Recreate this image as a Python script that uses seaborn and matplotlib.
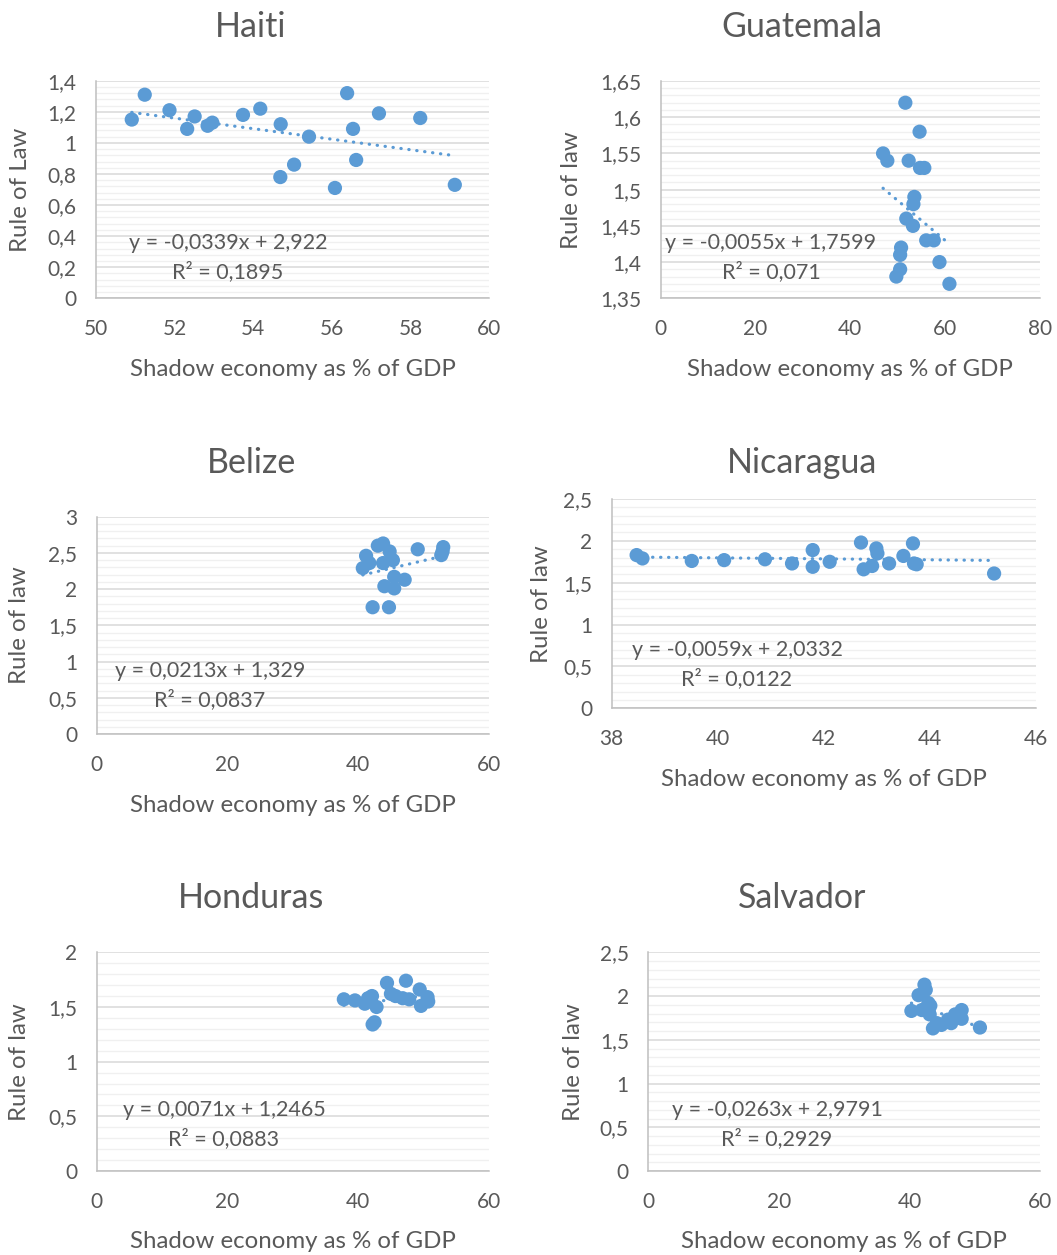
import numpy as np
import pandas as pd
import matplotlib
matplotlib.use("Agg")
import matplotlib.pyplot as plt
from matplotlib.ticker import MultipleLocator, AutoMinorLocator, FuncFormatter
import seaborn as sns

# ---------------- data ----------------
haiti_x = [50.91, 51.24, 51.87, 52.51, 52.32, 52.84, 52.96, 53.74, 54.18, 54.70,
           54.69, 55.04, 55.42, 56.08, 56.39, 56.54, 56.62, 57.20, 58.25, 59.13]
haiti_y = [1.15, 1.31, 1.21, 1.17, 1.09, 1.11, 1.13, 1.18, 1.22, 1.12,
           0.78, 0.86, 1.04, 0.71, 1.32, 1.09, 0.89, 1.19, 1.16, 0.73]
haiti_fit = (-0.0339, 2.922, 0.1895)

guatemala_x = [51.6, 54.6, 46.9, 47.8, 52.3, 54.7, 55.6, 53.5, 53.3, 51.8,
               53.2, 56.0, 57.6, 50.7, 50.5, 50.5, 49.7, 58.8, 60.9]
guatemala_y = [1.62, 1.58, 1.55, 1.54, 1.54, 1.53, 1.53, 1.49, 1.48, 1.46,
               1.45, 1.43, 1.43, 1.42, 1.41, 1.39, 1.38, 1.40, 1.37]
guatemala_fit = (-0.0055, 1.7599, 0.071)

belize_x = [43.8, 43.0, 44.8, 41.2, 49.1, 53.0, 52.7, 52.9, 45.3, 40.7,
            43.8, 47.1, 45.5, 44.0, 45.5, 42.2, 44.7, 41.7]
belize_y = [2.63, 2.60, 2.52, 2.46, 2.55, 2.58, 2.47, 2.52, 2.40, 2.29,
            2.36, 2.13, 2.17, 2.04, 2.01, 1.75, 1.75, 2.36]
belize_fit = (0.0213, 1.329, 0.0837)

nicaragua_x = [38.47, 38.58, 39.51, 40.12, 40.89, 41.40, 41.79, 41.79, 42.11, 42.70,
               42.75, 42.91, 42.99, 43.01, 43.23, 43.50, 43.68, 43.75, 43.70, 45.21]
nicaragua_y = [1.83, 1.79, 1.76, 1.77, 1.78, 1.73, 1.89, 1.69, 1.75, 1.98,
               1.66, 1.70, 1.91, 1.85, 1.73, 1.82, 1.97, 1.72, 1.73, 1.61]
nicaragua_fit = (-0.0059, 2.0332, 0.0122)

honduras_x = [37.8, 39.5, 41.0, 42.1, 42.8, 42.2, 42.5, 44.4, 47.3, 45.0,
              46.8, 49.4, 50.6, 49.6, 50.7, 47.8, 45.7, 41.5]
honduras_y = [1.57, 1.56, 1.53, 1.60, 1.50, 1.34, 1.36, 1.72, 1.74, 1.62,
              1.58, 1.66, 1.59, 1.51, 1.55, 1.57, 1.60, 1.58]
honduras_fit = (0.0071, 1.2465, 0.0883)

salvador_x = [42.3, 42.5, 41.4, 42.9, 43.2, 40.3, 41.9, 43.1, 43.6, 44.9,
              45.9, 46.4, 48.0, 48.0, 47.0, 50.8, 44.2]
salvador_y = [2.13, 2.07, 2.01, 1.92, 1.89, 1.83, 1.84, 1.79, 1.63, 1.67,
              1.73, 1.69, 1.84, 1.74, 1.79, 1.64, 1.69]
salvador_fit = (-0.0263, 2.9791, 0.2929)

# ---------------- style ----------------
sns.set_theme(style="white")
plt.rcParams["font.family"] = ["Lato", "DejaVu Sans"]

W, H = 1057, 1255
TEXT = "#595959"
DOT = "#5B9BD5"
AXIS = "#BFBFBF"

fig = plt.figure(figsize=(W / 100, H / 100), dpi=100)
fig.patch.set_facecolor("white")


def px_rect(left, right, top, bottom):
    return [left / W, 1 - bottom / H, (right - left) / W, (bottom - top) / H]


def comma(v, _pos=None):
    return f"{round(v, 4):g}".replace(".", ",")


panels = [
    dict(name="Haiti", x=haiti_x, y=haiti_y, fit=haiti_fit, ylabel="Rule of Law",
         box=(96, 489, 80.7, 298.3), xlim=(50, 60), xstep=2, ylim=(0, 1.4), ystep=0.2,
         title_xy=(251, 27), ylab_x=20, eq_xy=(228, 243)),
    dict(name="Guatemala", x=guatemala_x, y=guatemala_y, fit=guatemala_fit, ylabel="Rule of law",
         box=(660.7, 1040, 81, 298.3), xlim=(0, 80), xstep=20, ylim=(1.35, 1.65), ystep=0.05,
         title_xy=(802, 27), ylab_x=572, eq_xy=(771, 243)),
    dict(name="Belize", x=belize_x, y=belize_y, fit=belize_fit, ylabel="Rule of law",
         box=(96.7, 489, 516.7, 734), xlim=(0, 60), xstep=20, ylim=(0, 3), ystep=0.5,
         title_xy=(251, 463), ylab_x=20, eq_xy=(210, 671)),
    dict(name="Nicaragua", x=nicaragua_x, y=nicaragua_y, fit=nicaragua_fit, ylabel="Rule of law",
         box=(611.7, 1036, 499, 708.3), xlim=(38, 46), xstep=2, ylim=(0, 2.5), ystep=0.5,
         title_xy=(802, 463), ylab_x=542, eq_xy=(737, 650)),
    dict(name="Honduras", x=honduras_x, y=honduras_y, fit=honduras_fit, ylabel="Rule of law",
         box=(96.7, 489, 952.3, 1171), xlim=(0, 60), xstep=20, ylim=(0, 2), ystep=0.5,
         title_xy=(251, 898), ylab_x=20, eq_xy=(224, 1110)),
    dict(name="Salvador", x=salvador_x, y=salvador_y, fit=salvador_fit, ylabel="Rule of law",
         box=(648.3, 1040, 952.3, 1171), xlim=(0, 60), xstep=20, ylim=(0, 2.5), ystep=0.5,
         title_xy=(802, 898), ylab_x=573, eq_xy=(777, 1110)),
]

for p in panels:
    left, right, top, bottom = p["box"]
    ax = fig.add_axes(px_rect(left, right, top, bottom))
    ax.set_facecolor("white")
    ax.set_axisbelow(True)

    df = pd.DataFrame({"shadow": p["x"], "rule": p["y"]})
    slope, intercept, r2 = p["fit"]

    # linear trendline across the data range
    xs = np.array([df["shadow"].min(), df["shadow"].max()])
    ax.plot(xs, slope * xs + intercept, color=DOT, lw=2.3,
            linestyle=(0, (0.1, 2.4)), dash_capstyle="round", zorder=3)

    sns.scatterplot(data=df, x="shadow", y="rule", ax=ax, s=105, color=DOT,
                    edgecolor="none", linewidth=0, zorder=2, clip_on=False)

    ax.set_xlim(*p["xlim"])
    ax.set_ylim(*p["ylim"])
    ax.xaxis.set_major_locator(MultipleLocator(p["xstep"]))
    ax.yaxis.set_major_locator(MultipleLocator(p["ystep"]))
    ax.yaxis.set_minor_locator(AutoMinorLocator(5))
    ax.xaxis.set_major_formatter(FuncFormatter(comma))
    ax.yaxis.set_major_formatter(FuncFormatter(comma))

    ax.grid(axis="y", which="major", color="#D9D9D9", lw=1.1)
    ax.grid(axis="y", which="minor", color="#F0F0F0", lw=1.0)
    ax.grid(axis="x", visible=False, which="both")

    for side in ("top", "right"):
        ax.spines[side].set_visible(False)
    for side in ("left", "bottom"):
        ax.spines[side].set_color(AXIS)
        ax.spines[side].set_linewidth(1.1)

    ax.tick_params(axis="both", which="major", direction="out", length=5,
                   width=1.1, color=AXIS, labelcolor=TEXT, labelsize=15)
    ax.tick_params(axis="y", which="minor", length=0)
    ax.tick_params(axis="x", which="major", pad=10)
    ax.tick_params(axis="y", which="major", pad=9)

    # axis titles
    ax.set_xlabel("Shadow economy as % of GDP", fontsize=17.3, color=TEXT)
    ax.set_ylabel(p["ylabel"], fontsize=17.3, color=TEXT)
    ax.xaxis.label.set_va("center")
    ax.yaxis.label.set_va("center")
    xlab_y = bottom + 71
    ax.xaxis.set_label_coords(0.5, (bottom - xlab_y) / (bottom - top))
    ax.yaxis.set_label_coords((p["ylab_x"] - left) / (right - left), 0.5)

    # chart title
    tx, ty = p["title_xy"]
    fig.text(tx / W, 1 - ty / H, p["name"], fontsize=24.5, color=TEXT,
             ha="center", va="center")

    # trendline equation
    ex, ey = p["eq_xy"]
    eq1 = f"y = {comma(slope)}x + {comma(intercept)}"
    eq2 = f"R² = {comma(r2)}"
    fig.text(ex / W, 1 - ey / H, eq1, fontsize=15.5, color=TEXT, ha="center", va="center")
    fig.text(ex / W, 1 - (ey + 29) / H, eq2, fontsize=15.5, color=TEXT, ha="center", va="center")

fig.savefig("out.png", dpi=100, facecolor="white")
